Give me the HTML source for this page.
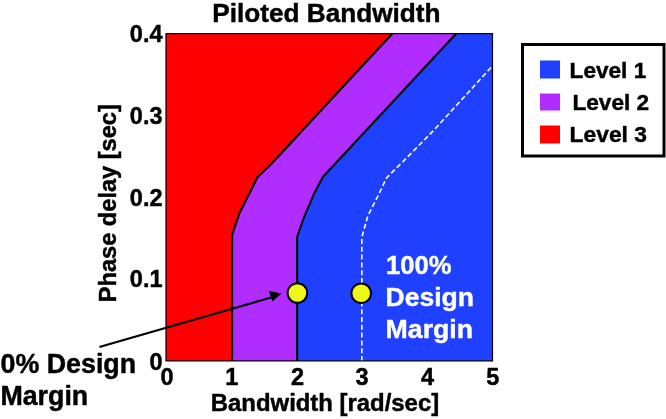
<!DOCTYPE html>
<html>
<head>
<meta charset="utf-8">
<title>Piloted Bandwidth</title>
<style>
html,body{margin:0;padding:0;background:#fff;}
body{width:666px;height:419px;overflow:hidden;}
svg{display:block;}
text{font-family:"Liberation Sans",Arial,sans-serif;font-weight:bold;fill:#000;stroke:#000;stroke-width:0.45px;stroke-linejoin:round;}
.w{fill:#fff;stroke:#fff;}
</style>
</head>
<body>
<svg width="666" height="419" viewBox="0 0 666 419">
  <rect x="0" y="0" width="666" height="419" fill="#ffffff"/>
  <!-- plot regions -->
  <rect x="166" y="33.6" width="326.5" height="327.3" fill="#2040ff"/>
  <path d="M166 33.5 L456.3 33.5 L322.8 177 L313.8 194.3 L303.7 218 L297.1 237.2 L297.1 361 L166 361 Z" fill="#b12cff"/>
  <path d="M166 33.5 L392.4 33.5 L271.5 163.7 L257.5 177.2 L250 192.2 L239.3 213.6 L232.1 235.1 L232.1 361 L166 361 Z" fill="#ff0000"/>
  <!-- boundaries -->
  <path d="M456.3 33.5 L322.8 177 L313.8 194.3 L303.7 218 L297.1 237.2 L297.1 361" fill="none" stroke="#000" stroke-width="2.1" stroke-linejoin="round"/>
  <path d="M392.4 33.5 L271.5 163.7 L257.5 177.2 L250 192.2 L239.3 213.6 L232.1 235.1 L232.1 361" fill="none" stroke="#000" stroke-width="2.1" stroke-linejoin="round"/>
  <path d="M361.8 361 L361.8 237.4 L367.8 216 L378.7 194.5 L386.7 177.6 L401.6 163 L434.5 129.5 L492.5 65.8" fill="none" stroke="#fff" stroke-width="1.6" stroke-dasharray="5 2.8"/>
  <!-- axes box -->
  <rect x="166" y="33.6" width="326.5" height="327.3" fill="none" stroke="#000" stroke-width="1.2"/>
  <!-- title -->
  <text x="326.4" y="21.5" font-size="26.2" text-anchor="middle">Piloted Bandwidth</text>
  <!-- y ticks -->
  <text x="162.5" y="42" font-size="23.5" text-anchor="end">0.4</text>
  <text x="162.5" y="124" font-size="23.5" text-anchor="end">0.3</text>
  <text x="162.5" y="206" font-size="23.5" text-anchor="end">0.2</text>
  <text x="162.5" y="287" font-size="23.5" text-anchor="end">0.1</text>
  <text x="162.5" y="370" font-size="23.5" text-anchor="end">0</text>
  <!-- x ticks -->
  <text x="167" y="385.4" font-size="23.5" text-anchor="middle">0</text>
  <text x="231.8" y="385.4" font-size="23.5" text-anchor="middle">1</text>
  <text x="297.6" y="385.4" font-size="23.5" text-anchor="middle">2</text>
  <text x="362" y="385.4" font-size="23.5" text-anchor="middle">3</text>
  <text x="427.5" y="385.4" font-size="23.5" text-anchor="middle">4</text>
  <text x="492.8" y="385.4" font-size="23.5" text-anchor="middle">5</text>
  <!-- axis labels -->
  <text x="325" y="410.5" font-size="23.9" text-anchor="middle">Bandwidth [rad/sec]</text>
  <text transform="translate(116.4,203.2) rotate(-90)" font-size="23.6" text-anchor="middle">Phase delay [sec]</text>
  <!-- legend -->
  <rect x="522.5" y="44.5" width="141.5" height="111.5" fill="#fff" stroke="#000" stroke-width="3"/>
  <rect x="540" y="60.5" width="20" height="18" fill="#2040ff"/>
  <rect x="540" y="93.5" width="20" height="17" fill="#b12cff"/>
  <rect x="540" y="125.5" width="20" height="18" fill="#ff0000"/>
  <text x="569.6" y="77.8" font-size="22.6">Level 1</text>
  <text x="572.5" y="110.3" font-size="22.6">Level 2</text>
  <text x="569.6" y="142.2" font-size="22.8">Level 3</text>
  <!-- annotations -->
  <text x="386" y="274.2" font-size="25.6" class="w">100%</text>
  <text x="385.6" y="305.8" font-size="26.5" class="w">Design</text>
  <text x="385.6" y="337.7" font-size="26.7" class="w">Margin</text>
  <text x="0.6" y="372.7" font-size="26.8">0% Design</text>
  <text x="0.4" y="405.3" font-size="26.8">Margin</text>
  <!-- arrow -->
  <line x1="99.4" y1="347" x2="272" y2="297.2" stroke="#000" stroke-width="2.1"/>
  <path d="M281.5 293.6 L268.7 290.7 L272.4 301.6 Z" fill="#000"/>
  <!-- markers -->
  <circle cx="297.4" cy="293" r="9.8" fill="#eef818" stroke="#000" stroke-width="2"/>
  <circle cx="361.2" cy="293.2" r="9.8" fill="#eef818" stroke="#000" stroke-width="2"/>
</svg>
</body>
</html>
